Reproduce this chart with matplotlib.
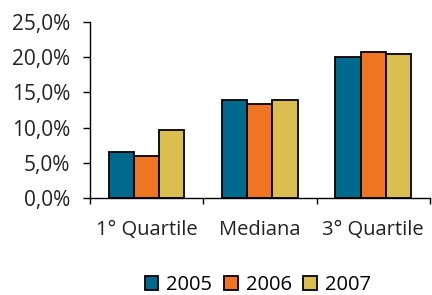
import matplotlib
matplotlib.use("Agg")
import matplotlib.pyplot as plt
import numpy as np
from matplotlib.ticker import FuncFormatter, FixedLocator

categories = ["1° Quartile", "Mediana", "3° Quartile"]
years = ["2005", "2006", "2007"]
v2005 = [6.5, 13.9, 20.1]
v2006 = [6.0, 13.3, 20.7]
v2007 = [9.6, 13.9, 20.4]
colors = ["#006a8e", "#f07522", "#dbbe50"]

plt.rcParams['font.family'] = ['Open Sans', 'DejaVu Sans']
fig = plt.figure(figsize=(4.32, 2.95), dpi=100)
ax = fig.add_axes([0.208, 0.329, 0.787, 0.596])

x = np.arange(len(categories))
w = 0.222
for i, (vals, lab) in enumerate(zip([v2005, v2006, v2007], years)):
    ax.bar(x + (i - 1) * w, vals, width=w, color=colors[i], edgecolor="black",
           linewidth=1.3, label=lab)

ax.set_xlim(-0.5, 2.5)
ax.set_ylim(0, 25)
ax.set_yticks([0, 5, 10, 15, 20, 25])
ax.yaxis.set_major_formatter(FuncFormatter(lambda v, p: f"{v:.1f}".replace(".", ",") + "%"))
ax.set_xticks(x)
ax.set_xticklabels(categories)
ax.xaxis.set_minor_locator(FixedLocator([-0.5, 0.5, 1.5, 2.5]))
ax.tick_params(axis='x', which='major', length=0, pad=16, labelsize=14.5, colors="#222222")
ax.tick_params(axis='x', which='minor', length=4.5, width=1, direction='out', color='black')
ax.tick_params(axis='y', length=5, width=1, direction='out', labelsize=15, colors="#222222", pad=9)
ax.tick_params(axis='y', color='black')
for s in ["top", "right"]:
    ax.spines[s].set_visible(False)
for s in ["left", "bottom"]:
    ax.spines[s].set_linewidth(1)

fig.legend(loc="center", bbox_to_anchor=(0.597, 0.033), ncol=3, frameon=False,
           fontsize=14.5, handlelength=0.67, handleheight=0.67, handletextpad=0.4,
           columnspacing=0.58, borderpad=0)

fig.savefig("out.png", dpi=100)
